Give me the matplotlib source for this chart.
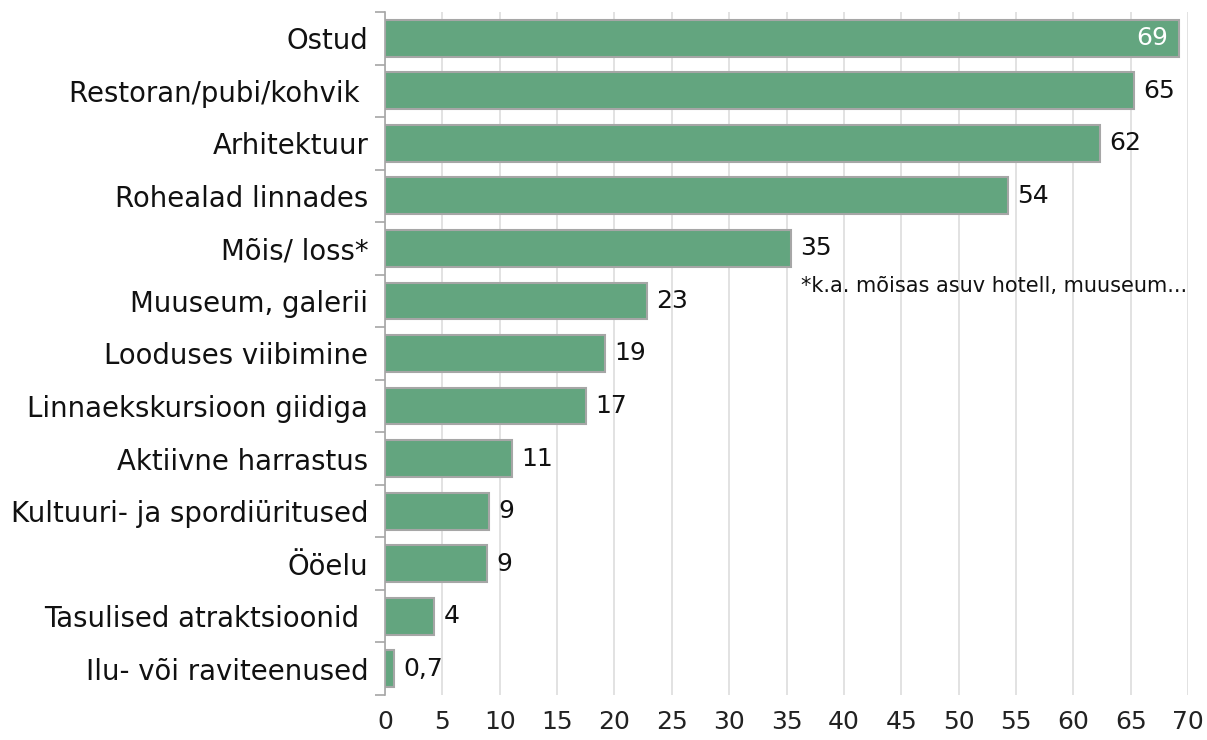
import matplotlib
matplotlib.use("Agg")
import matplotlib.pyplot as plt

categories = ["Ostud", "Restoran/pubi/kohvik ", "Arhitektuur", "Rohealad linnades",
              "Mõis/ loss*", "Muuseum, galerii", "Looduses viibimine",
              "Linnaekskursioon giidiga", "Aktiivne harrastus",
              "Kultuuri- ja spordiüritused", "Ööelu", "Tasulised atraktsioonid ",
              "Ilu- või raviteenused"]
values = [69.2, 65.3, 62.3, 54.3, 35.4, 22.8, 19.2, 17.5, 11.1, 9.1, 8.9, 4.3, 0.8]
value_labels = ["69", "65", "62", "54", "35", "23", "19", "17", "11", "9", "9", "4", "0,7"]
xticks = list(range(0, 75, 5))
note = "*k.a. mõisas asuv hotell, muuseum..."

plt.rcParams['font.family'] = ['DejaVu Sans']

fig = plt.figure(figsize=(12.07, 7.40), dpi=100)
ax = fig.add_axes([385/1207, 1-695/740, (1188-385)/1207, (695-12)/740])

n = len(categories)
ypos = list(range(n))
ax.barh(ypos, values, height=0.7, color="#63A57F", edgecolor="#a6a6a6", linewidth=1.5, zorder=3)
ax.set_xlim(0, 70)
ax.set_ylim(n - 0.5, -0.5)
ax.set_xticks(xticks)
ax.set_xticklabels([str(t) for t in xticks], fontsize=18, color="#222222")
ax.tick_params(axis='x', length=0, pad=11)
ax.set_yticks(ypos)
ax.set_yticklabels(categories, fontsize=19.8, color="#111111")
ax.tick_params(axis='y', length=0, pad=12)
ax.set_yticks([i - 0.5 for i in range(n + 1)], minor=True)
ax.tick_params(axis='y', which='minor', length=7, color="#a6a6a6", width=1.2)
ax.grid(axis='x', color="#dddddd", linewidth=1.2, zorder=0)
for s in ["top", "right", "bottom"]:
    ax.spines[s].set_visible(False)
ax.spines["left"].set_color("#a6a6a6")
ax.spines["left"].set_linewidth(1.2)

for i, (v, lab) in enumerate(zip(values, value_labels)):
    if i == 0:
        ax.text(v - 0.9, i, lab, ha='right', va='center', fontsize=18, color="white", zorder=4)
    else:
        ax.text(v + 0.8, i, lab, ha='left', va='center', fontsize=18, color="#111111", zorder=4)

ax.text(36.3, 4.72, note, ha='left', va='center', fontsize=15, color="#111111", zorder=4)

fig.savefig("out.png", dpi=100)
